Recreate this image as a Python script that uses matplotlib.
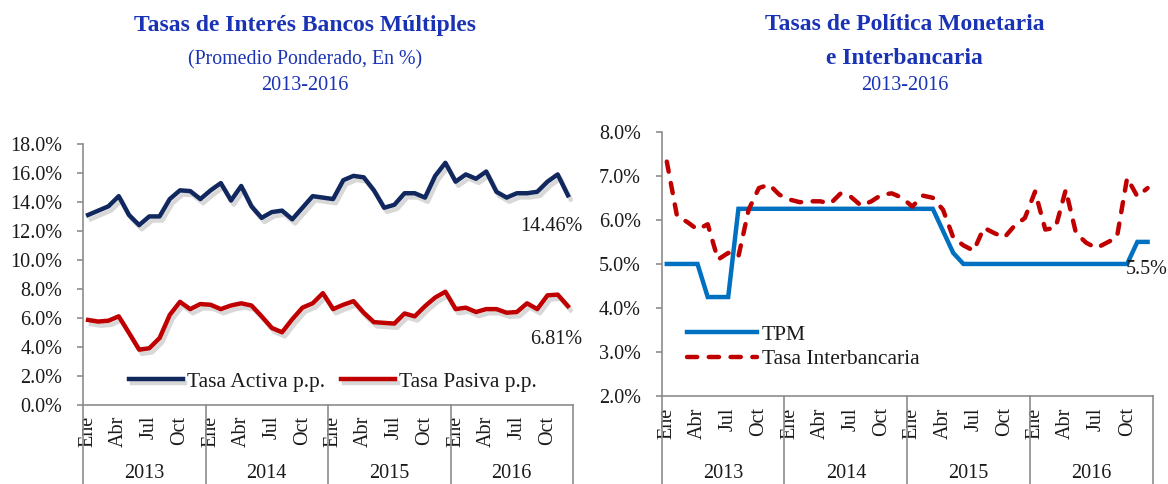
import matplotlib.pyplot as plt
import matplotlib.patheffects as pe
import matplotlib.transforms as mtransforms

plt.rcParams['font.family'] = ['Liberation Serif', 'DejaVu Serif']

# ====================== datos ======================
anios = ['2013', '2014', '2015', '2016']
meses_etiqueta = ['Ene', 'Abr', 'Jul', 'Oct']
meses_pos = [0, 3, 6, 9]

# Tasas bancos múltiples (Ene 2013 - Dic 2016), en %
tasa_activa = [13.1, 13.4, 13.7, 14.4, 13.1, 12.4, 13.0, 13.0, 14.2, 14.8, 14.75, 14.2,
               14.8, 15.3, 14.1, 15.1, 13.7, 12.9, 13.3, 13.4, 12.8, 13.6, 14.4, 14.3,
               14.2, 15.5, 15.8, 15.7, 14.8, 13.6, 13.8, 14.6, 14.6, 14.3, 15.8, 16.7,
               15.4, 15.9, 15.6, 16.1, 14.7, 14.3, 14.6, 14.6, 14.7, 15.4, 15.9, 14.46]
tasa_pasiva = [5.85, 5.74, 5.8, 6.1, 4.96, 3.8, 3.9, 4.6, 6.2, 7.1, 6.6, 6.95,
               6.9, 6.6, 6.85, 7.0, 6.85, 6.1, 5.3, 5.0, 5.9, 6.7, 7.0, 7.7,
               6.6, 6.9, 7.15, 6.35, 5.7, 5.65, 5.6, 6.3, 6.1, 6.8, 7.4, 7.8,
               6.6, 6.7, 6.4, 6.6, 6.6, 6.35, 6.4, 7.0, 6.6, 7.55, 7.6, 6.81]

# TPM e interbancaria
tpm = [5.0, 5.0, 5.0, 5.0, 4.25, 4.25, 4.25, 6.25, 6.25, 6.25, 6.25, 6.25,
       6.25, 6.25, 6.25, 6.25, 6.25, 6.25, 6.25, 6.25, 6.25, 6.25, 6.25, 6.25,
       6.25, 6.25, 6.25, 5.75, 5.25, 5.0, 5.0, 5.0, 5.0, 5.0, 5.0, 5.0,
       5.0, 5.0, 5.0, 5.0, 5.0, 5.0, 5.0, 5.0, 5.0, 5.0, 5.5, 5.5]
interbancaria = [7.32, 6.08, 5.95, 5.78, 5.9, 5.1, 5.25, 5.17, 6.23, 6.72, 6.8, 6.57,
                 6.46, 6.4, 6.42, 6.42, 6.37, 6.6, 6.52, 6.32, 6.42, 6.57, 6.6, 6.5,
                 6.3, 6.55, 6.5, 6.23, 5.6, 5.42, 5.3, 5.82, 5.7, 5.6, 5.87, 6.04,
                 6.64, 5.78, 5.82, 6.68, 5.7, 5.48, 5.36, 5.48, 5.6, 6.95, 6.53, 6.72]

# ====================== estilos ======================
W, H = 1168, 484
GRIS = '#8c8c8c'
AZUL_TITULO = '#1a33b5'
AZUL_OSCURO = '#10285e'
ROJO = '#c00000'
AZUL_TPM = '#0070c0'
TXT = '#1a1a1a'
FS = 14.5
FS_LEG = 15.5

fig = plt.figure(figsize=(W / 100, H / 100), dpi=100)


def eje_categorias(ax, fondo_px):
    """Eje X de dos niveles: meses rotados y años debajo"""
    n = 12 * len(anios)
    ax.set_xlim(-0.5, n - 0.5)
    pos = [12 * k + m for k in range(len(anios)) for m in meses_pos]
    etiquetas = meses_etiqueta * len(anios)
    ax.set_xticks(pos)
    ax.set_xticklabels(etiquetas, rotation=90, fontsize=FS, color=TXT)
    ax.tick_params(axis='x', length=0, pad=8)
    trans = mtransforms.blended_transform_factory(ax.transData, fig.transFigure)
    y0 = (H - fondo_px) / H
    for k in range(len(anios) + 1):
        b = 12 * k - 0.5
        ax.plot([b, b], [y0, 0], transform=trans, color=GRIS, lw=1.2, clip_on=False)
    for k, a in enumerate(anios):
        ax.text(12 * k + 5.5, 1 / H, a, transform=trans, ha='center', va='bottom',
                fontsize=FS, color=TXT)
    for s in ['top', 'right']:
        ax.spines[s].set_visible(False)
    for s in ['left', 'bottom']:
        ax.spines[s].set_color(GRIS)
        ax.spines[s].set_linewidth(1.2)
    ax.tick_params(axis='y', direction='out', length=4.5, color=GRIS, width=1.2,
                   pad=10.5, labelsize=FS, labelcolor=TXT)
    ax.yaxis.set_major_formatter(lambda v, p: f'{v:.1f}%')


x = list(range(48))

# ====================== gráfico izquierdo ======================
ax1 = fig.add_axes([83 / W, (H - 404.7) / H, 490 / W, 260.7 / H])
sombra = [pe.SimpleLineShadow(offset=(2, -3), shadow_color='gray', alpha=0.3), pe.Normal()]
ax1.plot(x, tasa_activa, color=AZUL_OSCURO, lw=3.2, label='Tasa Activa p.p.',
         solid_joinstyle='round', path_effects=sombra)
ax1.plot(x, tasa_pasiva, color=ROJO, lw=3.2, label='Tasa Pasiva p.p.',
         solid_joinstyle='round', path_effects=sombra)
ax1.set_ylim(0, 18)
ax1.set_yticks(range(0, 19, 2))
eje_categorias(ax1, 404.7)
ax1.annotate(f'{tasa_activa[-1]:.2f}%', xy=(47, tasa_activa[-1]), xytext=(-16, -31),
             textcoords='offset pixels', ha='center', va='center', fontsize=FS,
             color=TXT, annotation_clip=False)
ax1.annotate(f'{tasa_pasiva[-1]:.2f}%', xy=(47, tasa_pasiva[-1]), xytext=(-12, -33),
             textcoords='offset pixels', ha='center', va='center', fontsize=FS,
             color=TXT, annotation_clip=False)
leg1 = ax1.legend(loc='center', bbox_to_anchor=(0.51, 0.088), ncol=2, frameon=False,
                  fontsize=FS_LEG, handlelength=2.5, handletextpad=0.2, columnspacing=0.75,
                  borderpad=0, borderaxespad=0)
for t in leg1.get_texts():
    t.set_color(TXT)

fig.text(0.261, 1 - 25 / H, 'Tasas de Interés Bancos Múltiples', ha='center', va='center',
         fontsize=17, fontweight='bold', color=AZUL_TITULO)
fig.text(0.261, 1 - 60 / H, '(Promedio Ponderado, En %)', ha='center', va='center',
         fontsize=14.3, color=AZUL_TITULO)
fig.text(0.261, 1 - 85 / H, '2013-2016', ha='center', va='center',
         fontsize=14.5, color=AZUL_TITULO)

# ====================== gráfico derecho ======================
ax2 = fig.add_axes([661.7 / W, (H - 396.3) / H, 491 / W, 264.7 / H])
ax2.plot(x, tpm, color=AZUL_TPM, lw=3.2, label='TPM', solid_joinstyle='miter')
ax2.plot(x, interbancaria, color=ROJO, lw=3.2, ls=(0, (2.3, 2.6)), dash_capstyle='round',
         label='Tasa Interbancaria')
ax2.set_ylim(2, 8)
ax2.set_yticks(range(2, 9))
eje_categorias(ax2, 396.3)
ax2.annotate(f'{tpm[-1]:.1f}%', xy=(47, tpm[-1]), xytext=(-1, -28),
             textcoords='offset pixels', ha='center', va='center', fontsize=FS,
             color=TXT, annotation_clip=False)
leg2 = ax2.legend(loc='center left', bbox_to_anchor=(0.051, 0.186), frameon=False,
                  fontsize=FS_LEG, handlelength=3.25, handletextpad=0.23, labelspacing=0.2,
                  borderpad=0, borderaxespad=0)
for t in leg2.get_texts():
    t.set_color(TXT)

fig.text(0.7744, 1 - 25 / H, 'Tasas de Política Monetaria', ha='center', va='center',
         fontsize=17, fontweight='bold', color=AZUL_TITULO)
fig.text(0.7744, 1 - 58 / H, 'e Interbancaria', ha='center', va='center',
         fontsize=17, fontweight='bold', color=AZUL_TITULO)
fig.text(0.7744, 1 - 85 / H, '2013-2016', ha='center', va='center',
         fontsize=14.5, color=AZUL_TITULO)

fig.savefig('out.png', dpi=100)
